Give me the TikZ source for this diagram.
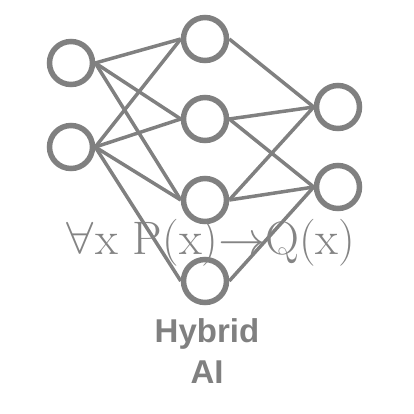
\documentclass[tikz,border=0pt]{standalone}
\usepackage{fontspec}
\usepackage{unicode-math}
\setmathfont{Latin Modern Math}
\newfontfamily\labelfont{Liberation Sans}
\definecolor{netgray}{RGB}{128,128,128}
\definecolor{txtgray}{RGB}{132,132,132}
\begin{document}
\begin{tikzpicture}[x=1pt,y=-1pt,
  neuron/.style={circle,draw=netgray,line width=5.5pt,minimum size=43pt,inner sep=0pt},
  link/.style={draw=netgray,line width=3.5pt},
  logic/.style={text=txtgray,font=\fontsize{47}{52}\selectfont,inner sep=0pt,anchor=base},
  title/.style={text=netgray,font=\labelfont\bfseries\fontsize{33}{38}\selectfont,inner sep=0pt,anchor=base}]
\useasboundingbox (0,0) rectangle (414,413);
\node[neuron] (i1) at (71,63) {};
\node[neuron] (i2) at (71,147) {};
\node[neuron] (h1) at (205,39) {};
\node[neuron] (h2) at (205,119) {};
\node[neuron] (h3) at (205,200) {};
\node[neuron] (h4) at (205,281) {};
\node[neuron] (o1) at (338,107) {};
\node[neuron] (o2) at (338,187) {};
\foreach \a/\b in {i1/h1,i1/h2,i1/h3,i2/h1,i2/h2,i2/h3,i2/h4,h1/o1,h2/o1,h2/o2,h3/o1,h3/o2,h4/o2}
  \draw[link] (\a.east) -- (\b.west);
\node[logic] (formula) at (210,254) {$\forall$x P(x)$\rightarrow$Q(x)};
\node[title] (hyb) at (207,342) {Hybrid};
\node[title] (ai) at (207,383) {AI};
\end{tikzpicture}
\end{document}
